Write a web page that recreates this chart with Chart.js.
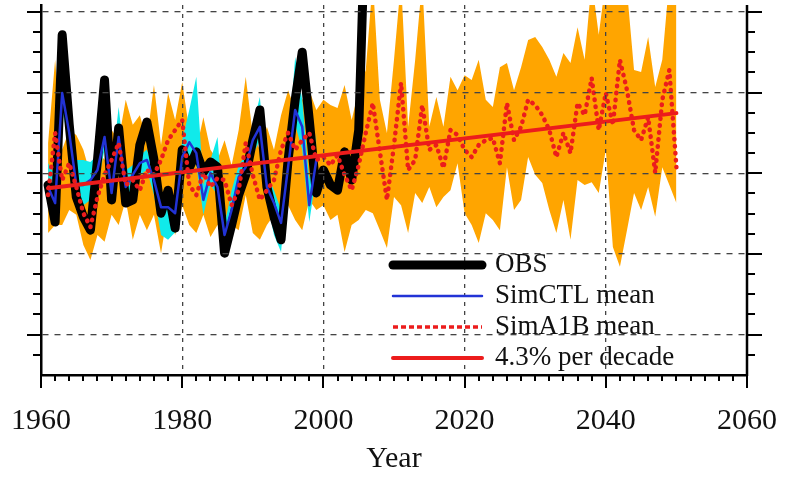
<!DOCTYPE html>
<html>
<head>
<meta charset="utf-8">
<script src="https://cdn.jsdelivr.net/npm/chart.js@4.4.0/dist/chart.umd.min.js"></script>
<style>
  html, body { margin: 0; padding: 0; background: #fff; }
  #wrap { width: 786px; height: 477px; }
</style>
</head>
<body>
<div id="wrap"><canvas id="seriesChart"></canvas></div>
<script>
// all series start in 1961, one value per year
const firstYear = 1961;

const obs = [47.1, 37.9, 84.3, 62.0, 44.1, 39.2, 35.9, 53.3, 73.1, 43.4,
    61.2, 42.6, 43.4, 57.0, 62.7, 53.3, 40.1, 45.8, 36.4, 55.8,
    51.3, 55.3, 50.3, 52.8, 51.5, 30.2, 37.2, 44.6, 49.6, 58.2,
    65.7, 46.6, 39.2, 33.5, 53.3, 68.2, 80.0, 63.2, 45.1, 50.8,
    47.1, 45.8, 55.3, 48.3, 60.7, 117.7];

const ctlMean = [46.6, 42.6, 69.9, 60.0, 47.1, 47.1, 48.3, 50.8, 59.0, 45.1,
    59.0, 46.6, 49.6, 52.5, 53.3, 48.3, 41.6, 41.6, 40.1, 54.0,
    57.7, 55.0, 43.4, 50.1, 46.6, 34.7, 40.9, 49.1, 51.5, 58.2,
    61.5, 46.6, 42.6, 37.7, 51.5, 65.7, 61.5, 42.1, 53.3];

const ctlHigh = [52.5, 49.6, 71.1, 62.0, 53.3, 53.3, 52.8, 54.5, 61.2, 50.8,
    66.4, 50.8, 52.0, 54.5, 55.8, 50.8, 44.6, 44.6, 43.4, 58.2,
    65.7, 73.9, 47.1, 53.3, 59.0, 37.2, 45.8, 52.0, 54.5, 62.0,
    68.9, 49.6, 45.8, 40.9, 55.8, 78.8, 68.2, 48.3, 60.0];

const ctlLow = [44.6, 39.7, 65.7, 57.0, 43.4, 42.1, 43.4, 47.1, 55.8, 43.4,
    55.8, 42.1, 43.4, 49.6, 50.8, 44.6, 34.7, 33.5, 35.4, 50.8,
    54.5, 52.0, 39.7, 47.1, 44.6, 31.0, 38.4, 45.8, 48.3, 54.5,
    58.2, 43.4, 34.7, 30.5, 48.3, 62.0, 55.8, 37.9, 49.6];

const a1bMean = [44.6, 60.0, 48.3, 52.5, 46.6, 40.1, 36.7, 44.1, 49.6, 53.3,
    57.5, 47.1, 48.3, 45.8, 50.8, 49.6, 53.3, 58.2, 60.7, 63.2,
    47.1, 44.6, 50.1, 46.6, 48.8, 48.3, 42.1, 45.8, 57.5, 49.6,
    43.4, 45.8, 48.3, 55.8, 60.0, 55.8, 58.2, 60.0, 53.3, 54.0,
    52.0, 54.5, 49.6, 45.8, 52.0, 60.0, 67.4, 55.3, 43.4, 57.0,
    72.4, 50.8, 53.3, 66.9, 55.8, 57.0, 51.3, 60.7, 59.5, 55.8,
    54.0, 57.0, 58.2, 58.7, 52.5, 67.4, 58.2, 61.5, 68.2, 66.9,
    64.4, 60.7, 54.0, 60.0, 55.0, 67.4, 64.4, 73.6, 60.7, 69.9,
    62.0, 78.1, 70.6, 60.7, 58.2, 63.9, 50.1, 68.2, 75.6, 51.5];

const a1bHigh = [57.5, 78.1, 55.8, 60.7, 59.5, 55.8, 49.6, 55.8, 53.3, 60.7,
    58.2, 68.2, 62.0, 64.4, 58.2, 71.9, 57.0, 69.9, 63.2, 72.6,
    60.7, 55.8, 63.9, 55.8, 53.3, 58.2, 52.0, 60.7, 73.9, 59.5,
    55.8, 61.5, 55.8, 64.4, 70.6, 65.7, 68.2, 70.6, 65.7, 68.2,
    66.9, 66.2, 71.9, 63.2, 70.6, 75.6, 97.9, 68.2, 60.0, 78.1,
    97.9, 61.5, 78.1, 97.9, 61.5, 68.9, 61.5, 73.9, 70.6, 74.3,
    73.1, 78.1, 68.2, 66.4, 76.3, 77.3, 70.6, 76.3, 83.0, 83.8,
    81.3, 78.1, 73.9, 79.8, 77.3, 86.2, 78.1, 97.9, 84.3, 97.9,
    97.9, 97.9, 95.4, 75.6, 75.1, 83.8, 71.4, 78.1, 97.9, 95.4];

const a1bLow = [35.2, 37.2, 37.2, 40.9, 39.7, 32.2, 28.5, 34.7, 33.0, 39.7,
    37.2, 43.4, 33.5, 39.7, 35.9, 39.7, 30.2, 40.9, 34.7, 42.1,
    37.2, 35.2, 39.7, 34.2, 37.2, 35.4, 37.2, 35.9, 44.6, 35.2,
    33.5, 37.2, 39.7, 35.9, 42.1, 38.4, 35.9, 43.4, 40.9, 42.1,
    38.4, 39.7, 30.5, 37.2, 38.4, 40.9, 40.1, 35.9, 31.5, 44.1,
    42.1, 35.2, 45.1, 42.6, 46.6, 41.6, 44.1, 45.8, 52.5, 40.1,
    37.2, 32.7, 40.1, 38.4, 35.9, 51.5, 40.9, 43.4, 54.0, 49.6,
    47.6, 40.9, 35.2, 43.4, 33.5, 48.3, 47.1, 47.8, 45.1, 55.8,
    31.7, 26.8, 35.9, 45.1, 40.9, 46.6, 39.2, 51.5, 47.1, 42.6];

const trendYears = [1961, 2050];
const trendValues = [46.3, 64.9];

const xTicks = [1960, 1980, 2000, 2020, 2040, 2060];
const yGridValues = [10, 30, 50, 70, 90];

const legendLabels = ['OBS', 'SimCTL mean', 'SimA1B mean', '4.3% per decade'];

const ORANGE = '#ffa500';
const CYAN = '#10eaea';
const RED = '#ec1c1c';
const BLUE = '#2233d6';

function toPoints(values) {
    return values.map((v, i) => ({x: firstYear + i, y: v}));
}

function lineSet(label, values, color, width, extra) {
    return Object.assign({
        label: label,
        data: values,
        borderColor: color,
        borderWidth: width,
        pointRadius: 0,
        tension: 0,
        fill: false,
        borderJoinStyle: 'round',
        borderCapStyle: 'round'
    }, extra || {});
}

function bandSet(values, color, fillTarget) {
    return {
        data: toPoints(values),
        borderWidth: 0,
        borderColor: 'rgba(0,0,0,0)',
        backgroundColor: color,
        pointRadius: 0,
        tension: 0,
        fill: fillTarget
    };
}

// tick marks on left, right and bottom, major and minor
const axisTicks = {
    id: 'axisTicks',
    afterDraw(chart) {
        const {ctx, chartArea, scales: {x, y}} = chart;
        ctx.save();
        ctx.strokeStyle = '#000';
        ctx.lineWidth = 2;
        ctx.beginPath();
        for (let yr = 1960; yr <= 2060; yr += 2) {
            const px = Math.round(x.getPixelForValue(yr));
            const len = yr % 20 === 0 ? 13 : 6;
            ctx.moveTo(px, chartArea.bottom);
            ctx.lineTo(px, chartArea.bottom + len);
        }
        for (let v = 5; v <= y.max; v += 5) {
            const py = Math.round(y.getPixelForValue(v));
            const major = (v - 10) % 20 === 0;
            ctx.moveTo(chartArea.left, py);
            ctx.lineTo(chartArea.left - (major ? 14 : 8), py);
            ctx.moveTo(chartArea.right, py);
            ctx.lineTo(chartArea.right + (major ? 15 : 8), py);
        }
        ctx.stroke();
        ctx.lineWidth = 2.5;
        ctx.beginPath();
        ctx.moveTo(chartArea.right, chartArea.top);
        ctx.lineTo(chartArea.right, chartArea.bottom + 1);
        ctx.stroke();
        ctx.restore();
    }
};

// legend drawn inside the plot, lower right
const inChartLegend = {
    id: 'inChartLegend',
    afterDraw(chart) {
        const ctx = chart.ctx;
        const left = 393, right = 482, textX = 495, top = 265, rowGap = 31;
        ctx.save();
        legendLabels.forEach((label, i) => {
            const ds = chart.data.datasets.find(d => d.label === label);
            const yRow = top + i * rowGap;
            ctx.beginPath();
            ctx.strokeStyle = ds.borderColor;
            ctx.lineWidth = ds.legendWidth || ds.borderWidth;
            ctx.lineCap = ds.legendDash ? 'butt' : 'round';
            ctx.setLineDash(ds.legendDash || []);
            ctx.moveTo(left, yRow);
            ctx.lineTo(right, yRow);
            ctx.stroke();
            ctx.setLineDash([]);
            ctx.fillStyle = '#111';
            ctx.font = '27px "Liberation Serif"';
            ctx.textBaseline = 'middle';
            ctx.fillText(label, textX, yRow);
        });
        ctx.restore();
    }
};

// lower index is drawn on top
const datasets = [
    lineSet('4.3% per decade', trendYears.map((yr, i) => ({x: yr, y: trendValues[i]})), RED, 4),
    lineSet('SimA1B mean', toPoints(a1bMean), RED, 4.5,
        {borderDash: [0.5, 6.5], legendDash: [5, 3], legendWidth: 3.5}),
    lineSet('SimCTL mean', toPoints(ctlMean), BLUE, 2.5),
    lineSet('OBS', toPoints(obs), '#000', 9),
    bandSet(ctlHigh, CYAN, '+1'),
    bandSet(ctlLow, CYAN, false),
    bandSet(a1bHigh, ORANGE, '+1'),
    bandSet(a1bLow, ORANGE, false)
];

const ctx = document.getElementById('seriesChart').getContext('2d');
new Chart(ctx, {
    type: 'line',
    data: {datasets: datasets},
    plugins: [axisTicks, inChartLegend],
    options: {
        responsive: true,
        maintainAspectRatio: false,
        animation: false,
        layout: {padding: {left: 41, right: 39, top: 5, bottom: 0}},
        plugins: {
            legend: {display: false},
            tooltip: {enabled: false}
        },
        scales: {
            x: {
                type: 'linear',
                min: 1960,
                max: 2060,
                afterBuildTicks: (scale) => { scale.ticks = xTicks.map(v => ({value: v})); },
                afterFit: (scale) => {
                    scale.height = 102;
                    scale.paddingLeft = 0;
                    scale.paddingRight = 0;
                },
                grid: {
                    color: '#444',
                    lineWidth: 1.3,
                    drawTicks: false,
                    z: 1
                },
                border: {display: true, color: '#000', width: 2.5, dash: [4, 5], z: 2},
                ticks: {
                    padding: 28,
                    color: '#111',
                    font: {family: 'Liberation Serif', size: 30},
                    maxRotation: 0,
                    callback: (v) => String(v)
                },
                title: {
                    display: true,
                    text: 'Year',
                    color: '#111',
                    font: {family: 'Liberation Serif', size: 30},
                    padding: {top: 2, bottom: 0}
                }
            },
            y: {
                type: 'linear',
                min: 0,
                max: 91.7,
                afterBuildTicks: (scale) => { scale.ticks = yGridValues.map(v => ({value: v})); },
                afterFit: (scale) => { scale.width = 0; },
                grid: {
                    color: '#444',
                    lineWidth: 1.3,
                    drawTicks: false,
                    z: 1
                },
                border: {display: true, color: '#000', width: 2.5, dash: [6, 6], z: 2},
                ticks: {display: false}
            }
        }
    }
});
</script>
</body>
</html>
